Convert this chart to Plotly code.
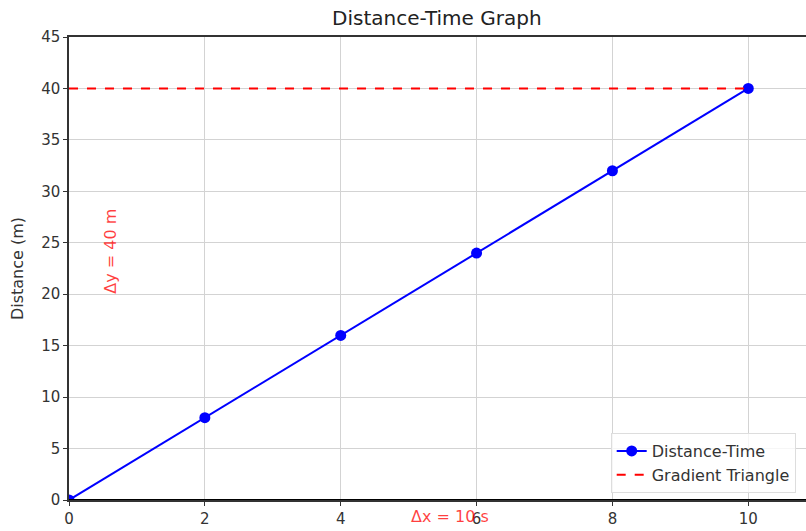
import plotly.graph_objects as go

time = [0, 2, 4, 6, 8, 10]
distance = [0, 8, 16, 24, 32, 40]
tri_x = [0, 10]
tri_y = [40, 40]
x_ticks = [0, 2, 4, 6, 8, 10]
y_ticks = [0, 5, 10, 15, 20, 25, 30, 35, 40, 45]

FONT = "DejaVu Sans"
fig = go.Figure()
fig.add_trace(go.Scatter(x=time, y=distance, mode="lines+markers", name="Distance-Time",
                         line=dict(color="blue", width=2), marker=dict(color="blue", size=11)))
fig.add_trace(go.Scatter(x=tri_x, y=tri_y, mode="lines", name="Gradient Triangle",
                         line=dict(color="red", width=2, dash="dash")))
fig.add_trace(go.Scatter(x=[0, 10.85], y=[0, 0], mode="lines", showlegend=False,
                         line=dict(color="black", width=2), hoverinfo="skip"))

fig.add_annotation(x=0.6, xref="x", y=24.2 / 45, yref="paper", text="Δy = 40 m", textangle=-90,
                   showarrow=False, font=dict(color="rgba(255,0,0,0.75)", size=16, family=FONT))
fig.add_annotation(x=5, xref="x", y=-1.6 / 45, yref="paper", text="Δx = 10 s", xanchor="left",
                   yanchor="middle", showarrow=False,
                   font=dict(color="rgba(255,0,0,0.75)", size=16, family=FONT))

fig.update_layout(
    width=806, height=531,
    margin=dict(l=69, r=0, t=37, b=31),
    paper_bgcolor="white", plot_bgcolor="white",
    font=dict(family=FONT, size=15, color="#333"),
    title=dict(text="Distance-Time Graph", x=0.542, xanchor="center", y=0.966, yanchor="middle",
               font=dict(size=20, color="#222")),
    showlegend=True,
    legend=dict(x=0.735, y=0.015, xanchor="left", yanchor="bottom", bordercolor="#ddd", borderwidth=1,
                bgcolor="rgba(255,255,255,0.8)", font=dict(size=16, color="#333"), tracegroupgap=0),
    xaxis=dict(range=[0, 10.85], tickvals=x_ticks, showgrid=True, gridcolor="#d3d3d3", gridwidth=1,
               showline=True, linecolor="#333", linewidth=1.5, mirror=True, ticks="outside", ticklen=4,
               tickcolor="#333", zeroline=False, fixedrange=True, automargin=False),
    yaxis=dict(range=[0, 45], tickvals=y_ticks, showgrid=True, gridcolor="#d3d3d3", gridwidth=1,
               showline=True, linecolor="#333", linewidth=1.5, mirror=True, ticks="outside", ticklen=4,
               tickcolor="#333", zeroline=False, automargin=False,
               title=dict(text="Distance (m)", standoff=14, font=dict(size=16)),
               fixedrange=True),
)
fig.write_html("out.html", config={"displayModeBar": False},
               post_script="document.body.style.margin='0';document.body.style.overflow='hidden';")
